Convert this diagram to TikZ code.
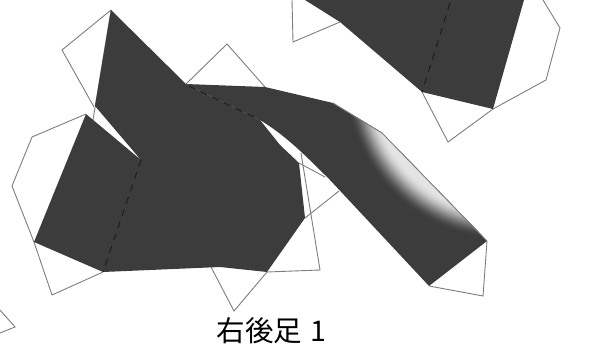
\documentclass[tikz,border=0pt]{standalone}
\usepackage{fontspec}
\newfontfamily\cjkfont{Noto Sans CJK JP}
\definecolor{darkfill}{RGB}{60,60,60}
\definecolor{flapline}{RGB}{125,125,125}
\definecolor{legglow}{RGB}{228,228,228}
\tikzset{
 flap/.style={draw=flapline,line width=0.9pt,fill=none,line join=miter},
 part/.style={fill=darkfill,draw=none},
 fold/.style={draw=black!90,line width=0.9pt,dash pattern=on 7pt off 6pt},
 caption/.style={font=\cjkfont\fontsize{28.5}{30}\selectfont,text=black,inner sep=0pt}
}
\begin{document}
\begin{tikzpicture}[x=1pt,y=-1pt]
\useasboundingbox (0,0) rectangle (601,345);
% outline flaps
\draw[flap] (111,10) -- (62,50) -- (94,107);
\draw[flap] (111,10) -- (93,120);
\draw[flap] (186,84) -- (227,44) -- (265,87);
\draw[flap] (86,114) -- (32,137) -- (12,186) -- (34,242) -- (52,295) -- (103,272);
\draw[flap] (211,267) -- (234,311) -- (267,272);
\draw[flap] (267,272) -- (320,270) -- (301,153);
\draw[flap] (305,218) -- (339,191);
\draw[flap] (299,163) -- (325,177);
\draw[flap] (487,241) -- (483,296) -- (429,286);
\draw[flap] (292,0) -- (293,42) -- (340,22);
\draw[flap] (543,0) -- (560,28) -- (546,80) -- (493,109) -- (448,142) -- (422,92);
\draw[flap] (0,310) -- (15,327) -- (0,333);
% body
\path[part] (111,10) -- (186,84) -- (260,120) -- (280,145) -- (299,163) -- (305,218) -- (267,272)
  -- (220,267) -- (103,272) -- (34,242) -- (86,114) -- (141,160) -- (95,106) -- cycle;
% top right piece
\path[part] (305,0) -- (340,22) -- (422,92) -- (493,109) -- (524,0) -- cycle;
% leg
\begin{scope}
\clip (186,84) -- (265,87) -- (333,103) -- (382,133) -- (487,241) -- (429,286) -- (330,180)
  .. controls (305,155) and (285,135) .. (260,120) -- cycle;
\fill[darkfill] (180,80) rectangle (490,290);
\foreach \r in {160,159,...,133}{
  \pgfmathsetmacro{\t}{(160-\r)/27}
  \pgfmathsetmacro{\p}{100*\t*\t*(3-2*\t)}
  \fill[legglow!\p!darkfill] (505,80) circle (\r);
}
\end{scope}
\draw[flap] (333,103) -- (382,133) -- (487,241);
% fold lines
\draw[fold] (189,86) -- (260,120);
\draw[fold] (141,160) -- (103,272);
\draw[fold] (450,3) -- (422,92);
\node[caption] (label) at (271.5,331) {右後足 \kern2pt 1};
\end{tikzpicture}
\end{document}
